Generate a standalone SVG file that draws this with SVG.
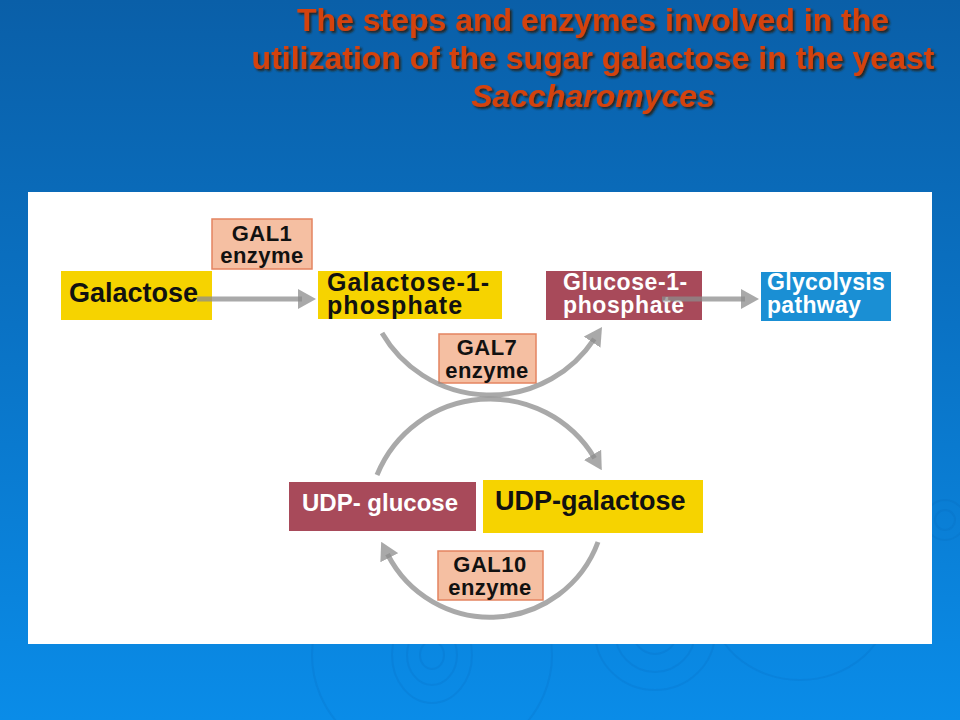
<svg xmlns="http://www.w3.org/2000/svg" width="960" height="720" viewBox="0 0 960 720">
<defs>
<linearGradient id="bg" x1="0" y1="0" x2="0" y2="1">
<stop offset="0" stop-color="#0a5fa8"/>
<stop offset="0.45" stop-color="#0a72c4"/>
<stop offset="1" stop-color="#0a8ce8"/>
</linearGradient>
<filter id="shadow" x="-5%" y="-20%" width="110%" height="150%">
<feDropShadow dx="2" dy="2" stdDeviation="0.8" flood-color="#2a1a10" flood-opacity="0.9"/>
</filter>
<marker id="ah" viewBox="0 0 18 20" markerWidth="18" markerHeight="20" refX="4" refY="10" orient="auto" markerUnits="userSpaceOnUse">
<path d="M0,0 L18,10 L0,20 z" fill="#8c8c8c" fill-opacity="0.75"/>
</marker>
<style>
.title{font-family:"Liberation Sans",Arial,sans-serif;font-weight:bold;font-size:32px;fill:#d4430e;text-anchor:middle}
.lbl{font-family:"Liberation Sans",Arial,sans-serif;font-weight:bold}
.dark{fill:#111}
.light{fill:#fff}
.yellow{fill:#f6d300}
.crimson{fill:#a84a5a}
.blue{fill:#1a8fd4}
.enz{fill:#f5bfa2;stroke:#e48460;stroke-width:1.5}
.enzt{font-size:22px;letter-spacing:0.5px;fill:#111;text-anchor:middle}
.conn{fill:none;stroke:#8c8c8c;stroke-opacity:0.75;stroke-width:5;marker-end:url(#ah)}
.ripple{fill:none;stroke:#0a5fb0;stroke-opacity:0.15;stroke-width:2}
</style>
</defs>
<rect x="0" y="0" width="960" height="720" fill="url(#bg)"/>
<g id="ripples">
<ellipse class="ripple" cx="432" cy="655" rx="40" ry="48"/>
<ellipse class="ripple" cx="432" cy="655" rx="25" ry="30"/>
<ellipse class="ripple" cx="432" cy="655" rx="12" ry="14"/>
<ellipse class="ripple" cx="432" cy="655" rx="120" ry="110"/>
<ellipse class="ripple" cx="655" cy="632" rx="40" ry="40"/>
<ellipse class="ripple" cx="655" cy="632" rx="22" ry="22"/>
<ellipse class="ripple" cx="655" cy="632" rx="60" ry="58"/>
<ellipse class="ripple" cx="800" cy="600" rx="90" ry="80"/>
<ellipse class="ripple" cx="945" cy="520" rx="20" ry="20"/>
<ellipse class="ripple" cx="945" cy="520" rx="10" ry="10"/>
</g>
<g id="title" filter="url(#shadow)">
<text class="title" x="593" y="31">The steps and enzymes involved in the</text>
<text class="title" x="593" y="69">utilization of the sugar galactose in the yeast</text>
<text class="title" x="593" y="107" font-style="italic">Saccharomyces</text>
</g>
<rect id="panel" x="28" y="192" width="904" height="452" fill="#fff"/>
<g id="node-galactose">
<rect class="yellow" x="61" y="271" width="151" height="49"/>
<text class="lbl dark" x="69" y="302" font-size="27">Galactose</text>
</g>
<g id="node-gal1">
<rect class="enz" x="212" y="219" width="100" height="50"/>
<text class="lbl enzt" x="262" y="241">GAL1</text>
<text class="lbl enzt" x="262" y="263">enzyme</text>
</g>
<g id="node-gal1p">
<rect class="yellow" x="318" y="271" width="184" height="48"/>
<text class="lbl dark" x="327" y="291" font-size="25" letter-spacing="1.1">Galactose-1-</text>
<text class="lbl dark" x="327" y="314" font-size="25" letter-spacing="1.1">phosphate</text>
</g>
<g id="node-glc1p">
<rect class="crimson" x="546" y="271" width="156" height="49"/>
<text class="lbl light" x="563" y="290" font-size="23" letter-spacing="0.6">Glucose-1-</text>
<text class="lbl light" x="563" y="313" font-size="23" letter-spacing="0.6">phosphate</text>
</g>
<g id="node-glycolysis">
<rect class="blue" x="761" y="272" width="130" height="49"/>
<text class="lbl light" x="767" y="290" font-size="23" letter-spacing="0.3">Glycolysis</text>
<text class="lbl light" x="767" y="313" font-size="23" letter-spacing="0.3">pathway</text>
</g>
<g id="node-gal7">
<rect class="enz" x="439" y="334" width="97" height="49"/>
<text class="lbl enzt" x="487" y="355">GAL7</text>
<text class="lbl enzt" x="487" y="378">enzyme</text>
</g>
<g id="node-udpglc">
<rect class="crimson" x="289" y="482" width="187" height="49"/>
<text class="lbl light" x="302" y="511" font-size="24">UDP- glucose</text>
</g>
<g id="node-udpgal">
<rect class="yellow" x="483" y="480" width="220" height="53"/>
<text class="lbl dark" x="495" y="510" font-size="27">UDP-galactose</text>
</g>
<g id="node-gal10">
<rect class="enz" x="438" y="551" width="105" height="49"/>
<text class="lbl enzt" x="490" y="572">GAL10</text>
<text class="lbl enzt" x="490" y="595">enzyme</text>
</g>
<g id="connectors">
<path class="conn" d="M197,299 L302,299"/>
<path class="conn" d="M662,299 L745,299"/>
<path class="conn" d="M382,333 A125,125 0 0 0 594.3,338.8"/>
<path class="conn" d="M377,475 A122,122 0 0 1 594.6,458.2"/>
<path class="conn" d="M598,542 A115,115 0 0 1 387.5,554.2"/>
</g>
</svg>
